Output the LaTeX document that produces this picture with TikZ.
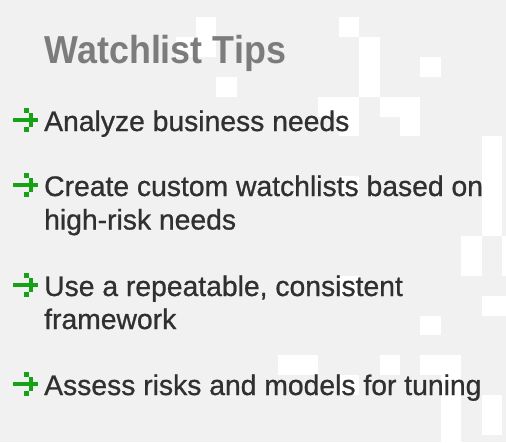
\documentclass[tikz,border=0pt]{standalone}
\usepackage{fontspec}
\setmainfont[FakeBold=0.8]{Liberation Sans}
\newfontfamily\titlefont[FakeStretch=0.92]{Liberation Sans}
\usepackage{tikz}
\definecolor{bggray}{HTML}{F1F1F1}
\definecolor{titlegray}{HTML}{7C7C7C}
\definecolor{tipdark}{HTML}{303030}
\definecolor{tipgreen}{HTML}{15A214}
\tikzset{
  tiptext/.style={anchor=base west, inner sep=0pt, text=tipdark,
    font=\fontsize{28.3}{33.5}\selectfont},
  tiparrow/.pic={
    \fill[tipgreen] (0,9.6) rectangle (25,14.4);
    \fill[tipgreen] (10.9,0) rectangle ++(4.7,4.8);
    \fill[tipgreen] (15.6,4.8) rectangle ++(4.7,4.8);
    \fill[tipgreen] (15.6,14.4) rectangle ++(4.7,4.8);
    \fill[tipgreen] (10.9,19.2) rectangle ++(4.7,4.8);
  }
}

\begin{document}
\begin{tikzpicture}[x=1pt, y=-1pt]
  \useasboundingbox (0,0) rectangle (506,442);
  \clip (0,0) rectangle (506,442);
  \fill[bggray] (0,0) rectangle (506,442);
  % pixel pattern
  \foreach \c/\r in {0/0,-1/1,0/1,1/3,7/0,8/1,8/2,8/3,11/2,6/4,7/4,7/5,
      9/4,10/4,10/5,14/6,14/7,14/8,14/9,14/10,7/8,13/11,13/12,15/11,15/12,
      7/13,14/14,15/14,11/15,4/17,5/17,9/17,11/17,12/17,7/18,
      12/18,12/19,12/20,12/21,14/19,14/20}
    \fill[white] (196+20.4*\c,17+19.9*\r) rectangle ++(20.4,19.9);

  \node[anchor=base west, inner sep=0pt, text=titlegray,
    font=\titlefont\bfseries\fontsize{39}{44}\selectfont] (title) at (44.5,63) {Watchlist Tips};

  \node[tiptext] (tipA) at (44,131) {Analyze business needs};
  \node[tiptext] (tipB) at (44,196) {Create custom watchlists based on};
  \node[tiptext] (tipBb) at (44,229.5) {high-risk needs};
  \node[tiptext] (tipC) at (44,296) {Use a repeatable, consistent};
  \node[tiptext] (tipCb) at (44,329) {framework};
  \node[tiptext] (tipD) at (44,395) {Assess risks and models for tuning};

  \foreach \y in {131,196,296,395}
    \pic at (13,\y-23) {tiparrow};
\end{tikzpicture}
\end{document}
